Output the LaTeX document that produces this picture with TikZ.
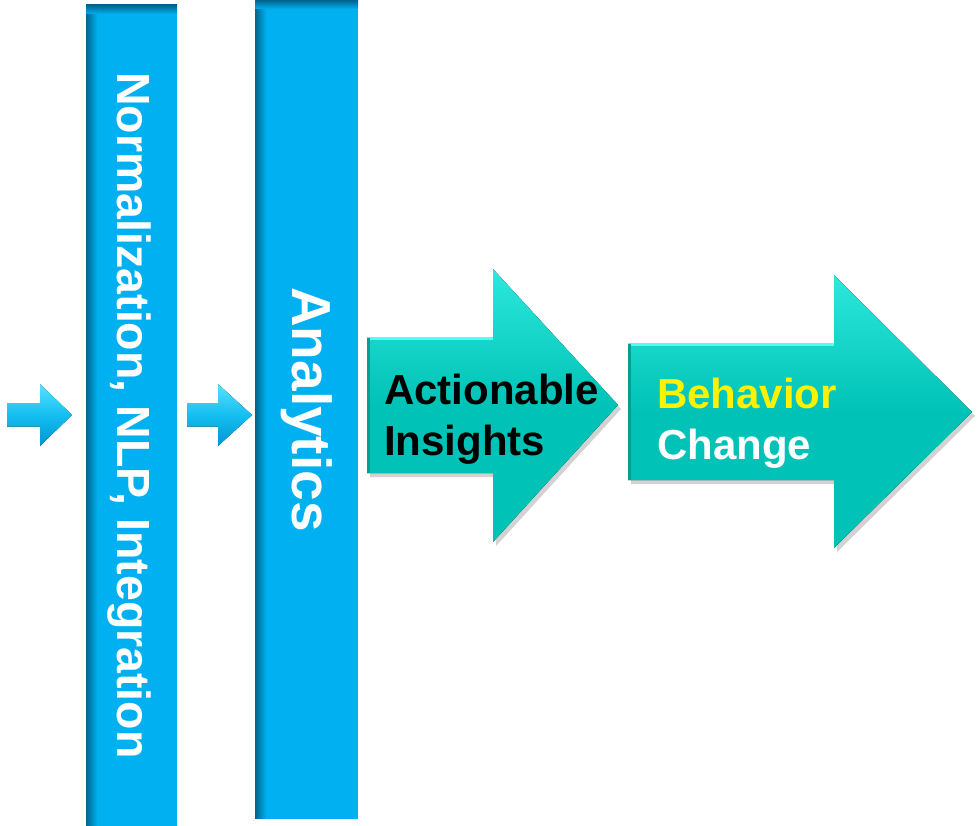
\documentclass[tikz,border=0pt]{standalone}
\usepackage{fontspec}
\setmainfont{Liberation Sans}
\usetikzlibrary{shadows}

\definecolor{barblue}{RGB}{0,176,240}
\definecolor{bardark}{RGB}{0,100,140}
\definecolor{tealmain}{RGB}{0,194,182}
\definecolor{teallight}{RGB}{45,232,220}
\definecolor{tealdark}{RGB}{0,160,150}
\definecolor{tealedge}{RGB}{80,255,245}
\definecolor{skyblue}{RGB}{20,190,240}
\definecolor{skylight}{RGB}{90,225,255}
\definecolor{skydark}{RGB}{0,150,210}

\begin{document}
\begin{tikzpicture}[x=1pt, y=-1pt]
        \tikzset{bar/.style={fill=barblue, inner sep=0pt,
            path picture={
              % inner shadow on the left edge, one thin strip at a time
              \foreach \i in {0,...,11}{
                \pgfmathtruncatemacro{\lev}{\i*9}
                \fill[barblue!\lev!bardark] ([xshift={\i*1pt}]path picture bounding box.north west) rectangle ([xshift={\i*1pt+1.2pt}]path picture bounding box.south west);}
              \fill[top color=bardark, bottom color=barblue] (path picture bounding box.north west) rectangle ([yshift=-9pt]path picture bounding box.north east);}}}
        \tikzset{bartext/.style={text=white, inner sep=0pt, rotate=-90}}
        % flat block arrows with a soft shadow
        \tikzset{smallarrow/.style={top color=skylight, bottom color=skydark, middle color=skyblue}}
        \tikzset{bigarrow/.style={top color=teallight, bottom color=tealmain, middle color=tealmain,
            drop shadow={shadow xshift=3pt, shadow yshift=-4pt, opacity=0.25, fill=black!70}}}
        \tikzset{biglabel/.style={align=left, inner sep=0pt, font=\bfseries\fontsize{42}{51}\selectfont}}

        \useasboundingbox (0,0) rectangle (977,826);

        \node[bar, minimum width=91pt, minimum height=821pt] (bar_norm) at (131.5,415.5) {};
        \node[bartext, font=\bfseries\fontsize{46.5}{50}\selectfont] (txt_norm) at ([xshift=-2pt]bar_norm.center) {Normalization, NLP, Integration};
        \node[bar, minimum width=103pt, minimum height=819pt] (bar_ana) at (306.5,409.5) {};
        \node[bartext, font=\bfseries\fontsize{55}{60}\selectfont] (txt_ana) at (bar_ana.center) {Analytics};

        \fill[smallarrow] (7,403.5) -- (40,403.5) -- (40,384) -- (72,415) -- (40,446) -- (40,426.5) -- (7,426.5) -- cycle;
        \fill[smallarrow] (187,403.5) -- (218,403.5) -- (218,384) -- (252,415) -- (218,446) -- (218,426.5) -- (187,426.5) -- cycle;

        \fill[bigarrow] (367,337) -- (493,337) -- (493,269) -- (618,405) -- (493,542) -- (493,473) -- (367,473) -- cycle;
        \draw[tealedge, line width=3pt] (367,338.5) -- (493,338.5);
        \draw[tealdark, line width=3pt] (368.5,338) -- (368.5,473);
        \node[biglabel, anchor=north west, text=black] (txt_act) at (384,374) {Actionable\\Insights};

        \fill[bigarrow] (628,343) -- (834,343) -- (834,275) -- (972,412) -- (834,548) -- (834,480) -- (628,480) -- cycle;
        \draw[tealedge, line width=3pt] (628,344.5) -- (834,344.5);
        \draw[tealdark, line width=3pt] (629.5,344) -- (629.5,480);
        \node[biglabel, anchor=north west] (txt_beh) at (657,378) {\textcolor{yellow}{Behavior}\\\textcolor{white}{Change}};
\end{tikzpicture}
\end{document}
